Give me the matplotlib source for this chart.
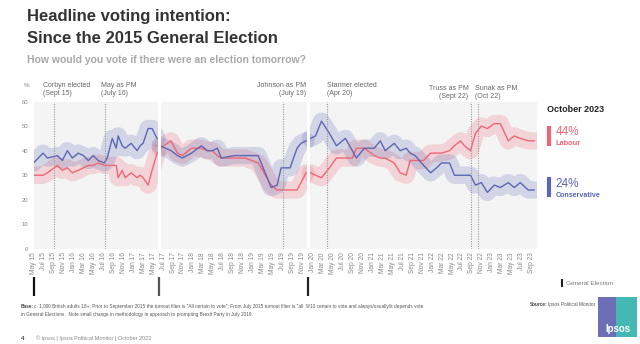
import matplotlib
matplotlib.use('Agg')
from matplotlib import pyplot as plt
from matplotlib import transforms
from matplotlib.lines import Line2D
from matplotlib.patches import Rectangle

plt.rcParams['font.family'] = ['Liberation Sans', 'DejaVu Sans']

# months since May 2015, split at the 2017 and 2019 general elections
months_1 = [0, 1.9, 2.8, 4.8, 5.8, 6.8, 7.8, 9.0, 10.0, 11.0, 12.0, 13.0, 14.2, 14.8, 15.8,
            16.6, 17.0, 17.8, 18.4, 19.6, 20.8, 21.4, 22.0, 23.0, 23.8, 24.8]
con_1 = [35, 39, 37, 38, 36, 40, 37, 39, 38, 36, 38, 36, 35, 37, 45,
         41, 46, 42, 41, 43, 40, 42, 43, 49, 49, 45]
lab_1 = [30, 30, 31, 34, 32, 33, 31, 32, 33, 34, 34, 35, 34, 34, 34,
         34, 29, 32, 29, 31, 29, 30, 29, 26, 32, 39]

months_2 = [25.4, 27.6, 28.9, 29.9, 31.7, 33.7, 34.9, 35.9, 36.9, 37.7, 40.3, 42.5, 45.1,
            47.7, 48.9, 49.7, 51.5, 52.9, 53.7, 54.7]
con_2 = [42, 40, 38, 37, 39, 42, 40, 40, 41, 37, 38, 38, 38, 25, 26, 33, 33, 41, 43, 44]
lab_2 = [41, 44, 39, 38, 41, 41, 40, 40, 38, 37, 37, 37, 35, 26, 24, 24, 24, 24, 27, 31]

months_3 = [55.6, 56.6, 57.8, 59.4, 60.8, 62.6, 64.0, 64.8, 66.4, 68.4, 69.6, 70.6, 72.4,
            73.6, 74.8, 75.6, 76.6, 78.3, 79.7, 80.9, 81.9, 83.5, 84.5, 85.7, 86.5, 87.7,
            88.7, 89.9, 91.1, 92.5, 93.7, 95.3, 96.5, 97.7, 99.3, 100.5]
con_3 = [45, 46, 52, 47, 42, 45, 40, 37, 41, 41, 44, 40, 43, 40, 41, 39, 38, 34, 31, 33,
         35, 35, 30, 30, 30, 30, 26, 27, 23, 26, 25, 27, 25, 27, 24, 24]
lab_3 = [31, 30, 29, 33, 37, 37, 37, 41, 41, 38, 37, 37, 35, 31, 30, 36, 36, 36, 39, 39,
         39, 40, 42, 44, 42, 40, 47, 50, 49, 51, 51, 44, 46, 45, 44, 44]

segments = [(months_1, con_1, lab_1), (months_2, con_2, lab_2), (months_3, con_3, lab_3)]

election_months = [0, 25.2, 55.1]
events = [
    (4.2, 'Corbyn elected\n(Sept 15)', 1.95, 'left', 95.5),
    (14.4, 'May as PM\n(July 16)', 13.5, 'left', 95.5),
    (50.1, 'Johnson as PM\n(July 19)', 54.8, 'right', 95.5),
    (59.0, 'Starmer elected\n(Apr 20)', 58.9, 'left', 95.5),
    (87.9, 'Truss as PM\n(Sept 22)', 87.3, 'right', 98),
    (89.3, 'Sunak as PM\n(Oct 22)', 88.7, 'left', 98),
]

month_names = ['Jan', 'Feb', 'Mar', 'Apr', 'May', 'Jun', 'Jul', 'Aug', 'Sep', 'Oct', 'Nov', 'Dec']
tick_months = list(range(0, 101, 2))
tick_labels = ['{} {}'.format(month_names[(4 + m) % 12], 15 + (4 + m) // 12) for m in tick_months]

con_latest = 24
lab_latest = 44

CON = '#5b67b3'
LAB = '#ee6675'
W, H = 640, 344


def fx(px):
    return px / W


def fy(py):
    return 1 - py / H


fig = plt.figure(figsize=(6.4, 3.44), dpi=100)
ax = fig.add_axes([fx(33.5), fy(249), (536.7 - 33.5) / W, (249 - 101.5) / H])
ax.set_facecolor('#f4f4f4')

for m, con, lab in segments:
    ax.plot(m, lab, color=LAB, lw=12.5, alpha=0.22, solid_capstyle='round',
            solid_joinstyle='round', zorder=2)
    ax.plot(m, con, color=CON, lw=12.5, alpha=0.22, solid_capstyle='round',
            solid_joinstyle='round', zorder=2)
    ax.plot(m, lab, color=LAB, lw=1.0, zorder=4)
    ax.plot(m, con, color=CON, lw=1.0, zorder=4)

# white breaks at each general election
for m in election_months[1:]:
    ax.axvline(m, color='white', lw=2.2, zorder=5)

blend = transforms.blended_transform_factory(ax.transData, fig.transFigure)
for m, label, tx, ha, base in events:
    ax.axvline(m, color='#9a9a9a', lw=0.8, ls=(0, (1, 1.2)), zorder=6)
    fig.text(tx, fy(base), label, transform=blend, ha=ha, va='baseline',
             fontsize=5, color='#666666', linespacing=1.25)

for m, c in zip(election_months, ['#111111', '#555555', '#222222']):
    ax.plot([m, m], [fy(277), fy(296)], color=c, lw=1.6, transform=blend,
            clip_on=False, solid_capstyle='butt')

ax.set_xlim(0, 101)
ax.set_ylim(0, 60)
ax.set_yticks(range(0, 61, 10))
ax.set_xticks(tick_months)
ax.set_xticklabels(tick_labels, rotation=90)
ax.tick_params(axis='y', length=0, pad=3.7, labelsize=4.2, labelcolor='#888888')
ax.tick_params(axis='x', length=0, pad=2.2, labelsize=4.8, labelcolor='#888888')
for s in ax.spines.values():
    s.set_visible(False)

fig.text(fx(27), fy(86.7), '%', ha='center', va='baseline', fontsize=4.5, color='#888888')

# titles
fig.text(fx(27), fy(21), 'Headline voting intention:', fontsize=12, fontweight='bold',
         color='#333333', va='baseline')
fig.text(fx(27), fy(43.3), 'Since the 2015 General Election', fontsize=12, fontweight='bold',
         color='#333333', va='baseline')
fig.text(fx(27), fy(63.3), 'How would you vote if there were an election tomorrow?',
         fontsize=7.5, fontweight='bold', color='#a8a8a8', va='baseline')

# latest figures
fig.text(fx(547), fy(111.7), 'October 2023', fontsize=6.5, fontweight='bold',
         color='#222222', va='baseline')
fig.add_artist(Line2D([fx(548.7), fx(548.7)], [fy(125.7), fy(146)], color=LAB, lw=3,
                      solid_capstyle='butt'))
fig.text(fx(555.5), fy(135.3), '{}%'.format(lab_latest), fontsize=8.5, color=LAB, va='baseline')
fig.text(fx(555.5), fy(145.3), 'Labour', fontsize=5.3, fontweight='bold', color=LAB,
         va='baseline')
fig.add_artist(Line2D([fx(548.7), fx(548.7)], [fy(176.7), fy(197.3)], color=CON, lw=3,
                      solid_capstyle='butt'))
fig.text(fx(555.5), fy(186.7), '{}%'.format(con_latest), fontsize=8.5, color=CON, va='baseline')
fig.text(fx(555.5), fy(196.7), 'Conservative', fontsize=5.1, fontweight='bold', color=CON,
         va='baseline')

fig.add_artist(Line2D([fx(561.8), fx(561.8)], [fy(279.3), fy(287.3)], color='#222222', lw=1.5,
                      solid_capstyle='butt'))
fig.text(fx(566), fy(283.3), 'General Election', fontsize=4.6, color='#777777', va='center')

# footnotes
fig.text(fx(21), fy(308), 'Base:', fontsize=3.4, fontweight='bold', color='#444444',
         va='baseline')
fig.text(fx(34.5), fy(308),
         'c. 1,000 British adults 18+; Prior to September 2015 the turnout filter is "All certain '
         'to vote"; From July 2015 turnout filter is "all  9/10 certain to vote and '
         'always/usually/it depends vote',
         fontsize=3.4, color='#555555', va='baseline')
fig.text(fx(21), fy(316),
         'in General Elections.  Note small change in methodology in approach to prompting '
         'Brexit Party in July 2019',
         fontsize=3.4, color='#555555', va='baseline')
fig.text(fx(530), fy(306), 'Source:', fontsize=3.4, fontweight='bold', color='#444444',
         va='baseline')
fig.text(fx(548.5), fy(306), 'Ipsos Political Monitor', fontsize=3.4, color='#555555',
         va='baseline')
fig.text(fx(21), fy(338), '4', fontsize=4.5, fontweight='bold', color='#444444', va='center')
fig.text(fx(36), fy(338), '\u00a9 Ipsos | Ipsos Political Monitor | October 2023',
         fontsize=4, color='#888888', va='center')

# logo block
fig.add_artist(Rectangle((fx(598), fy(337)), 39 / W, 40 / H, transform=fig.transFigure,
                         color='#45b8b3', lw=0))
fig.add_artist(Rectangle((fx(598), fy(337)), 18 / W, 40 / H, transform=fig.transFigure,
                         color='#6c6fb6', lw=0))
fig.text(fx(617.5), fy(329), 'Ipsos', fontsize=7, fontweight='bold', color='white',
         ha='center', va='center')

fig.savefig('out.png', dpi=100)
